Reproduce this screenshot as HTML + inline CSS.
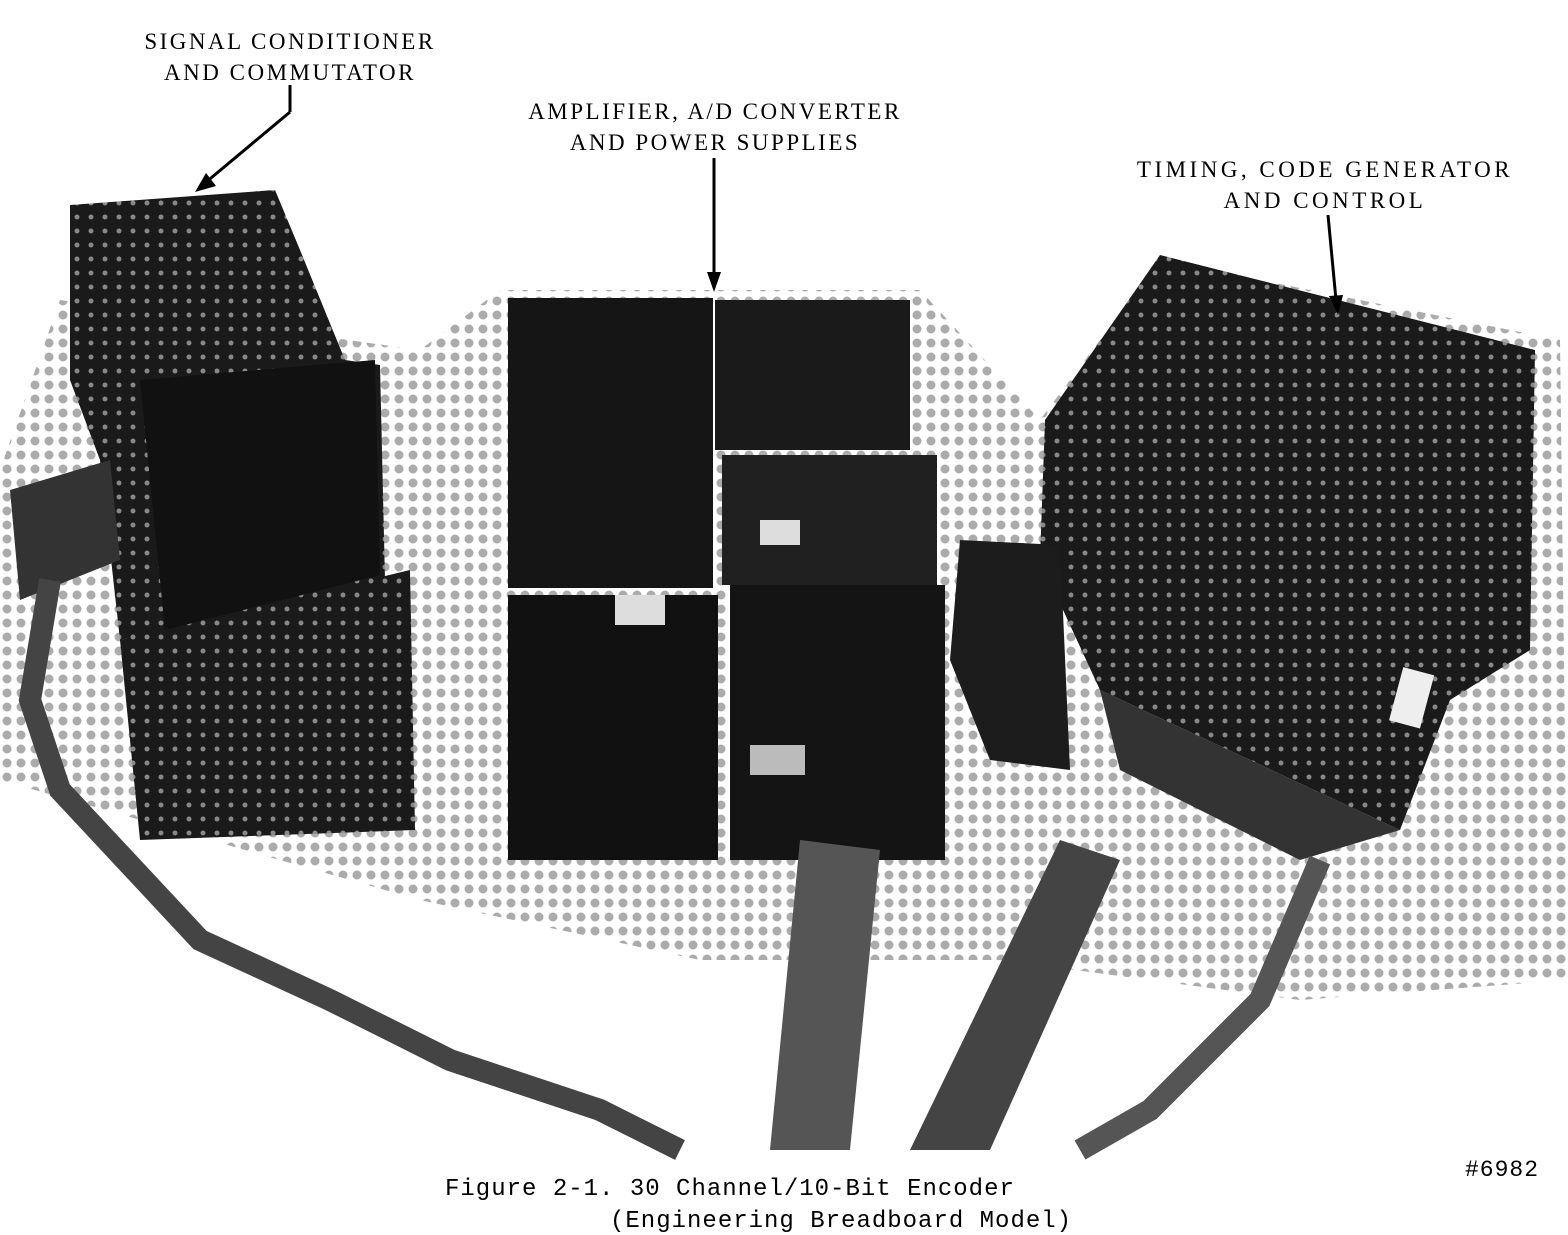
<!DOCTYPE html>
<html><head><meta charset="utf-8"><style>
html,body{margin:0;padding:0;background:#fff}
body{width:1568px;height:1232px;position:relative;overflow:hidden;font-family:"Liberation Mono","DejaVu Sans Mono",monospace}
.t{position:absolute;font-size:23px;color:#000;white-space:nowrap;text-align:center;letter-spacing:2.5px;font-family:"Liberation Serif",serif;line-height:31px}
.c{position:absolute;font-size:24px;color:#000;white-space:nowrap;font-family:"Liberation Mono",monospace;letter-spacing:1px}
</style></head><body>
<svg width="1568" height="1232" style="position:absolute;left:0;top:0">
<defs>
<pattern id="dots" width="14" height="14" patternUnits="userSpaceOnUse"><circle cx="7" cy="7" r="4.5" fill="#666"/></pattern>
<pattern id="dk" width="14" height="14" patternUnits="userSpaceOnUse"><rect width="14" height="14" fill="#1a1a1a"/><circle cx="7" cy="7" r="2.5" fill="#888"/></pattern>
</defs>
<polygon points="0,470 60,300 420,350 500,290 920,290 1040,420 1160,260 1560,340 1568,980 1300,1000 1000,960 700,960 420,900 0,780" fill="url(#dots)" opacity="0.55"/>
<polygon points="70,205 275,190 300,250 345,360 380,365 385,580 120,640 100,460 70,380" fill="url(#dk)"/>
<polygon points="120,640 410,570 415,830 140,840" fill="url(#dk)"/>
<polygon points="140,380 375,360 380,575 165,630" fill="#111"/>
<polygon points="10,490 110,460 120,560 20,600" fill="#333"/>
<polyline points="50,580 30,700 60,790 200,940 330,1000 450,1060 600,1110 680,1150" stroke="#444" stroke-width="22" fill="none"/>
<rect x="508" y="298" width="205" height="290" fill="#151515"/>
<rect x="715" y="300" width="195" height="150" fill="#1a1a1a"/>
<rect x="722" y="455" width="215" height="130" fill="#202020"/>
<rect x="508" y="595" width="210" height="265" fill="#111"/>
<rect x="730" y="585" width="215" height="275" fill="#141414"/>
<rect x="615" y="595" width="50" height="30" fill="#ddd"/>
<rect x="760" y="520" width="40" height="25" fill="#ddd"/>
<rect x="750" y="745" width="55" height="30" fill="#bbb"/>
<polygon points="800,840 880,850 850,1150 770,1150" fill="#555"/>
<polygon points="1160,255 1535,350 1530,650 1450,700 1400,830 1100,690 1040,560 1045,420" fill="url(#dk)"/>
<polygon points="960,540 1060,545 1070,770 990,760 950,660" fill="#1c1c1c"/>
<polygon points="1100,690 1400,830 1300,860 1120,770" fill="#333"/>
<rect x="1395" y="670" width="32" height="55" fill="#eee" transform="rotate(15 1410 700)"/>
<polygon points="1060,840 1120,860 990,1150 910,1150" fill="#444"/>
<polyline points="1320,860 1260,1000 1150,1110 1080,1150" stroke="#555" stroke-width="22" fill="none"/>
<line x1="290" y1="85" x2="290" y2="112" stroke="#000" stroke-width="3"/>
<line x1="290" y1="112" x2="205" y2="183" stroke="#000" stroke-width="3"/>
<polygon points="195,192 206,173 216,186" fill="#000"/>
<line x1="714" y1="158" x2="714" y2="278" stroke="#000" stroke-width="3"/>
<polygon points="707,272 721,272 714,292" fill="#000"/>
<line x1="1328" y1="215" x2="1336" y2="300" stroke="#000" stroke-width="3"/>
<polygon points="1329,296 1343,295 1338,315" fill="#000"/>
</svg>
<div class="t" style="left:115px;top:26px;width:350px">SIGNAL CONDITIONER<br>AND COMMUTATOR</div>
<div class="t" style="left:490px;top:96px;width:450px">AMPLIFIER, A/D CONVERTER<br>AND POWER SUPPLIES</div>
<div class="t" style="left:1105px;top:154px;width:440px;letter-spacing:3.5px">TIMING, CODE GENERATOR<br>AND CONTROL</div>
<div class="c" style="left:445px;top:1176px">Figure 2-1. 30 Channel/10-Bit Encoder</div>
<div class="c" style="left:610px;top:1208px">(Engineering Breadboard Model)</div>
<div class="c" style="left:1465px;top:1157px;font-size:23px">#6982</div>
</body></html>
